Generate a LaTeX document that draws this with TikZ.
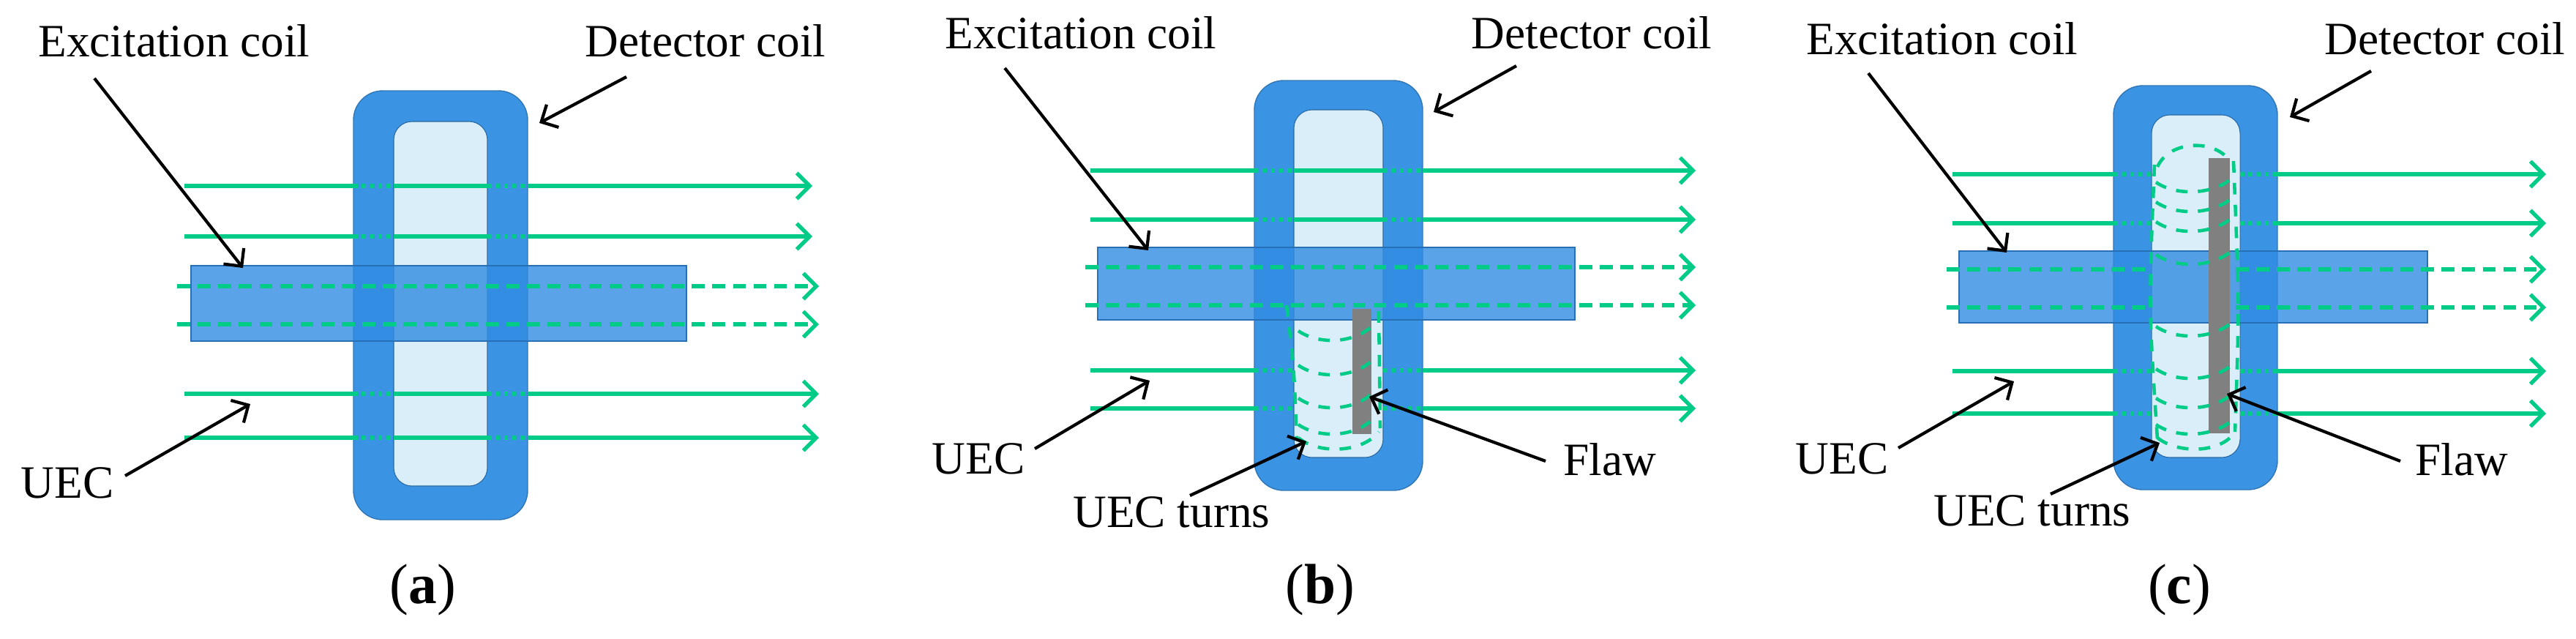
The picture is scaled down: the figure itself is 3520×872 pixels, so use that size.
\documentclass[tikz,border=0pt]{standalone}
\usepackage{fontspec}
\setmainfont{Liberation Serif}
\usetikzlibrary{arrows.meta}

\definecolor{coilblue}{RGB}{59,147,228}
\definecolor{innerblue}{RGB}{218,238,250}
\definecolor{barblue}{RGB}{50,140,226}
\definecolor{fieldgreen}{RGB}{0,204,136}
\definecolor{flawgray}{RGB}{128,128,128}

\tikzset{
  coil/.style={fill=coilblue,draw=coilblue!80!black,line width=0.4pt,rounded corners=0.4cm},
  inner/.style={fill=innerblue,draw=coilblue!70!black,line width=0.3pt,rounded corners=0.25cm},
  bar/.style={fill=barblue,fill opacity=0.8,draw=barblue!80!black,line width=0.4pt},
  flaw/.style={fill=flawgray},
  field/.style={fieldgreen,line width=1.5pt},
  tip/.style={-{Straight Barb[length=5pt,width=10pt,line width=1.5pt]}},
  dots/.style={dash pattern=on 1.6pt off 1.6pt},
  dashes/.style={dash pattern=on 5pt off 3pt},
  turn/.style={fieldgreen,line width=1.3pt,dash pattern=on 4.5pt off 4pt},
  lbl/.style={font=\fontsize{18}{20}\selectfont,inner sep=0pt},
  sub/.style={font=\fontsize{22}{26}\selectfont,inner sep=0pt},
  pointer/.style={line width=1.2pt,-{Straight Barb[length=5pt,width=10pt,line width=1.2pt]}}
}

% field line: y, start, coil left, inner left, inner right, coil right, end
\newcommand\fline[7]{%
  \draw[field] (#2,#1) -- (#3,#1);
  \draw[field,dots] (#3,#1) -- (#4,#1);
  \draw[field] (#4,#1) -- (#5,#1);
  \draw[field,dots] (#5,#1) -- (#6,#1);
  \draw[field,tip] (#6,#1) -- (#7,#1);}
% same, broken over the flaw
\newcommand\flinegap[7]{%
  \draw[field] (#2,#1) -- (#3,#1);
  \draw[field,dots] (#3,#1) -- (#4,#1);
  \draw[field,dots] (#5,#1) -- (#6,#1);
  \draw[field,tip] (#6,#1) -- (#7,#1);}

\begin{document}
\begin{tikzpicture}[x=0.01cm,y=-0.01cm]
\useasboundingbox (0,0) rectangle (3520,872);

% (a)
\draw[coil] (483,124) rectangle (721,710);
\draw[inner] (538,166) rectangle (666,664);
\draw[bar] (261,363) rectangle (938,466);
\foreach \y/\e in {254/1110,323/1110,538/1119,598/1119}
  {\fline{\y}{252}{483}{538}{666}{721}{\e}}
\foreach \y in {391,443}
  {\draw[field,dashes,tip] (242,\y) -- (1119,\y);}
\node[lbl] (exca) at (238,56) {Excitation coil};
\node[lbl] (deta) at (964,56) {Detector coil};
\node[lbl] (ueca) at (92,660) {UEC};
\node[sub] (capa) at (578,806) {(\textbf{a})};
\coordinate (excta) at (332,366);
\coordinate (detta) at (737,168);
\coordinate (uecta) at (342,552);
\draw[pointer] (exca) ++(-109,51) -- (excta);
\draw[pointer] (deta) ++(-108,49) -- (detta);
\draw[pointer] (ueca) ++(79,-10) -- (uecta);

% (b)
\draw[coil] (1714,110) rectangle (1944,670);
\draw[inner] (1768,150) rectangle (1890,625);
\draw[bar] (1500,338) rectangle (2152,437);
\fill[flaw] (1848,422) rectangle (1874,593);
\foreach \y in {233,300}
  {\fline{\y}{1490}{1714}{1768}{1890}{1944}{2317}}
\foreach \y in {506,558}
  {\flinegap{\y}{1490}{1714}{1768}{1890}{1944}{2317}}
\foreach \y in {365,417}
  {\draw[field,dashes,tip] (1483,\y) -- (2317,\y);}
\draw[turn] (1758,417) .. controls (1768,500) .. (1772,600);
\draw[turn] (1884,425) -- (1886,585);
\foreach \y in {452,499,544,580}
  {\draw[turn] (1774,\y) .. controls (1800,\y+18) and (1845,\y+18) .. (1872,\y-4);}
\draw[turn] (1774,598) .. controls (1800,620) and (1860,620) .. (1884,590);
\node[lbl] (excb) at (1477,45) {Excitation coil};
\node[lbl] (detb) at (2175,45) {Detector coil};
\node[lbl] (uecb) at (1337,627) {UEC};
\node[lbl] (turnb) at (1601,700) {UEC turns};
\node[lbl] (flawb) at (2200,628) {Flaw};
\node[sub] (capb) at (1804,806) {(\textbf{b})};
\coordinate (exctb) at (1569,342);
\coordinate (dettb) at (1959,153);
\coordinate (uectb) at (1571,520);
\coordinate (turntb) at (1785,603);
\coordinate (flawtb) at (1871,542);
\draw[pointer] (excb) ++(-104,48) -- (exctb);
\draw[pointer] (detb) ++(-103,45) -- (dettb);
\draw[pointer] (uecb) ++(77,-14) -- (uectb);
\draw[pointer] (turnb) ++(25,-23) -- (turntb);
\draw[pointer] (flawb) ++(-88,2) -- (flawtb);

% (c)
\draw[coil] (2888,117) rectangle (3112,669);
\draw[inner] (2940,157) rectangle (3061,625);
\draw[bar] (2677,343) rectangle (3317,441);
\fill[flaw] (3018,216) rectangle (3047,592);
\foreach \y in {238,305,507,565}
  {\flinegap{\y}{2668}{2888}{2940}{3061}{3112}{3479}}
\foreach \y in {368,420}
  {\draw[field,dashes] (2660,\y) -- (2940,\y);
   \draw[field,dashes,tip] (3055,\y) -- (3479,\y);}
\draw[turn] (2944,225) .. controls (2936,420) .. (2948,600);
\draw[turn] (3052,220) .. controls (3060,420) .. (3054,590);
\draw[turn] (2948,228) .. controls (2965,190) and (3030,190) .. (3048,222);
\foreach \y in {249,276,303,348,446,504,544,580}
  {\draw[turn] (2946,\y) .. controls (2972,\y+18) and (3020,\y+18) .. (3048,\y-4);}
\draw[turn] (2948,598) .. controls (2975,620) and (3035,620) .. (3054,590);
\node[lbl] (excc) at (2654,53) {Excitation coil};
\node[lbl] (detc) at (3341,53) {Detector coil};
\node[lbl] (uecc) at (2517,627) {UEC};
\node[lbl] (turnc) at (2777,698) {UEC turns};
\node[lbl] (flawc) at (3364,628) {Flaw};
\node[sub] (capc) at (2978,806) {(\textbf{c})};
\coordinate (exctc) at (2742,345);
\coordinate (dettc) at (3129,160);
\coordinate (uectc) at (2752,521);
\coordinate (turntc) at (2951,605);
\coordinate (flawtc) at (3043,538);
\draw[pointer] (excc) ++(-101,47) -- (exctc);
\draw[pointer] (detc) ++(-101,44) -- (dettc);
\draw[pointer] (uecc) ++(77,-15) -- (uectc);
\draw[pointer] (turnc) ++(25,-23) -- (turntc);
\draw[pointer] (flawc) ++(-84,2) -- (flawtc);
\end{tikzpicture}
\end{document}
